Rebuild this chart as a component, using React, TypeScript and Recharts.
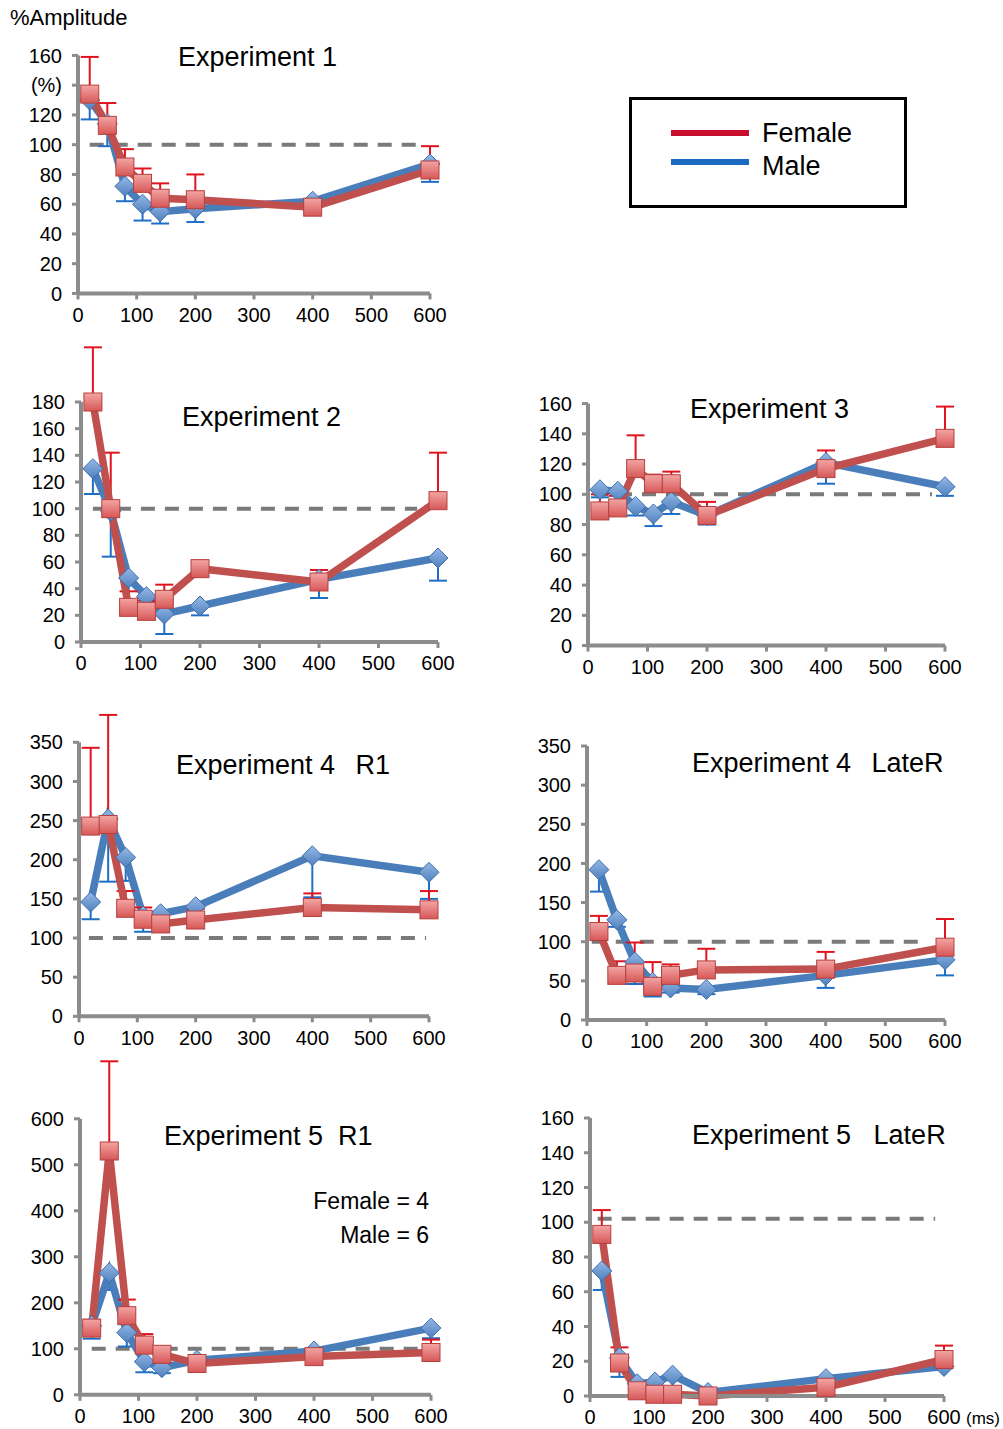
import React from 'react';
import { LineChart, Line, XAxis, YAxis, ErrorBar, ReferenceLine } from 'recharts';

// stimulus intervals (ms)
const delays = [20, 50, 80, 110, 140, 200, 400, 600];
const xTicks = [0, 100, 200, 300, 400, 500, 600];

const exp1Female = [134, 113, 85, 74, 64, 63, 58, 83];
const exp1FemaleErr = [25, 15, 12, 10, 10, 17, 5, 16];
const exp1Male = [130, 114, 72, 60, 55, 57, 62, 87];
const exp1MaleErr = [13, 15, 10, 11, 8, 9, 7, 12];

const exp2Female = [180, 100, 26, 23, 32, 55, 45, 106];
const exp2FemaleErr = [41, 42, 12, 8, 11, 6, 9, 36];
const exp2Male = [130, 98, 48, 34, 21, 27, 47, 63];
const exp2MaleErr = [19, 34, 26, 10, 15, 7, 14, 17];

const exp3Female = [89, 91, 117, 107, 107, 86, 117, 137];
const exp3FemaleErr = [11, 8, 22, 6, 8, 9, 12, 21];
const exp3Male = [103, 102, 92, 87, 95, 86, 121, 105];
const exp3MaleErr = [5, 6, 6, 8, 8, 6, 14, 6];

const exp4R1Female = [243, 245, 138, 124, 118, 123, 139, 136];
const exp4R1FemaleErr = [100, 140, 22, 15, 9, 14, 18, 24];
const exp4R1Male = [146, 252, 203, 128, 131, 140, 205, 184];
const exp4R1MaleErr = [22, 80, 30, 20, 17, 27, 53, 34];

const exp4LateFemale = [113, 57, 60, 43, 57, 64, 65, 93];
const exp4LateFemaleErr = [20, 18, 39, 31, 14, 27, 22, 36];
const exp4LateMale = [192, 128, 74, 48, 41, 39, 57, 77];
const exp4LateMaleErr = [28, 9, 28, 18, 6, 6, 16, 20];

const exp5R1Female = [145, 530, 172, 108, 88, 68, 83, 92];
const exp5R1FemaleErr = [18, 195, 35, 24, 5, 7, 12, 28];
const exp5R1Male = [150, 265, 135, 72, 59, 75, 95, 145];
const exp5R1MaleErr = [28, 37, 30, 23, 12, 3, 18, 22];

const exp5LateFemale = [93, 19, 3, 1, 1, 0, 5, 21];
const exp5LateFemaleErr = [14, 9, 1, 0, 0, 0, 1, 8];
const exp5LateMale = [72, 22, 7, 8, 12, 2, 10, 17];
const exp5LateMaleErr = [11, 11, 7, 8, 9, 1, 5, 1];

const FONT = '"Liberation Sans", Arial, Helvetica, sans-serif';
const AXIS = '#8c8c8c';
const RED_LINE = '#c0504d';
const BLUE_LINE = '#4a7ebb';
const RED_ERR = '#e0141e';
const BLUE_ERR = '#1f6fc6';

function buildRows(f: number[], fe: number[], m: number[], me: number[]) {
  // female bars only go up, male bars only go down (as in the original figure)
  return delays.map((t, i) => ({
    t,
    female: f[i],
    femaleErr: [0, fe[i]],
    male: m[i],
    maleErr: [me[i], 0],
  }));
}

interface PanelProps {
  id: string;
  rows: any[];
  plotLeft: number;
  plotRight: number;
  zeroY: number;
  axisTopY: number;
  axisMax: number;
  extTop: number;
  step: number;
  refY: number;
  refFrom: number;
  refTo: number;
  percentTick?: boolean;
}

function Panel(p: PanelProps) {
  const pxPerUnit = (p.zeroY - p.axisTopY) / p.axisMax;
  const plotTop = p.zeroY - p.extTop * pxPerUnit;
  const mTop = 20;
  const mBottom = 5;
  const xAxisH = 40;
  const yAxisW = 60;
  const mLeft = 10;
  const mRight = 30;
  const width = p.plotRight - p.plotLeft + mLeft + yAxisW + mRight;
  const height = p.zeroY - plotTop + mTop + mBottom + xAxisH;
  const yTicks: number[] = [];
  for (let v = 0; v <= p.axisMax; v += p.step) yTicks.push(v);

  const square = (props: any) => {
    const { cx, cy, index } = props;
    if (cx == null || cy == null) return <g key={index} />;
    return (
      <rect key={index} x={cx - 9} y={cy - 9} width={18} height={18}
        fill={`url(#sq-${p.id})`} stroke="#b5403e" strokeWidth={1} />
    );
  };
  const diamond = (props: any) => {
    const { cx, cy, index } = props;
    if (cx == null || cy == null) return <g key={index} />;
    return (
      <polygon key={index}
        points={`${cx},${cy - 10} ${cx + 10},${cy} ${cx},${cy + 10} ${cx - 10},${cy}`}
        fill={`url(#dm-${p.id})`} stroke="#3d6ead" strokeWidth={1} />
    );
  };

  return (
    <div style={{ position: 'absolute', left: p.plotLeft - mLeft - yAxisW, top: plotTop - mTop }}>
      <LineChart width={width} height={height} data={p.rows}
        margin={{ top: mTop, right: mRight, bottom: mBottom, left: mLeft }}>
        <defs>
          <linearGradient id={`sq-${p.id}`} x1="0" y1="0" x2="0" y2="1">
            <stop offset="0%" stopColor="#f3a5a4" />
            <stop offset="100%" stopColor="#d65857" />
          </linearGradient>
          <linearGradient id={`dm-${p.id}`} x1="0" y1="0" x2="0" y2="1">
            <stop offset="0%" stopColor="#95b8e6" />
            <stop offset="100%" stopColor="#4f81bd" />
          </linearGradient>
        </defs>
        <XAxis dataKey="t" type="number" domain={[0, 600]} ticks={xTicks}
          axisLine={{ stroke: AXIS, strokeWidth: 4 }}
          tickLine={{ stroke: AXIS, strokeWidth: 3 }}
          tickSize={6} tickMargin={8} height={xAxisH} interval={0}
          tick={{ fontSize: 20, fill: '#000', fontFamily: FONT }} />
        <YAxis type="number" domain={[0, p.extTop]} ticks={yTicks} width={yAxisW}
          axisLine={false}
          tickLine={{ stroke: AXIS, strokeWidth: 3 }}
          tickSize={6} tickMargin={10} interval={0}
          tickFormatter={(v: number) => (p.percentTick && v === 140 ? '(%)' : String(v))}
          tick={{ fontSize: 20, fill: '#000', fontFamily: FONT }} />
        <ReferenceLine segment={[{ x: 0, y: 0 }, { x: 0, y: p.axisMax }]}
          stroke={AXIS} strokeWidth={4} />
        <ReferenceLine segment={[{ x: p.refFrom, y: p.refY }, { x: p.refTo, y: p.refY }]}
          stroke="#7a7a7a" strokeWidth={4} strokeDasharray="14 10" />
        <Line type="linear" dataKey="male" stroke={BLUE_LINE} strokeWidth={7.5}
          dot={diamond} isAnimationActive={false}>
          <ErrorBar dataKey="maleErr" direction="y" width={9} stroke={BLUE_ERR} strokeWidth={2} />
        </Line>
        <Line type="linear" dataKey="female" stroke={RED_LINE} strokeWidth={7.5}
          dot={square} isAnimationActive={false}>
          <ErrorBar dataKey="femaleErr" direction="y" width={9} stroke={RED_ERR} strokeWidth={2} />
        </Line>
      </LineChart>
    </div>
  );
}

const titleStyle = (left: number, cy: number, size = 27): React.CSSProperties => ({
  position: 'absolute',
  left,
  top: cy - size / 2 - 2,
  fontSize: size,
  lineHeight: `${size + 4}px`,
  fontFamily: FONT,
  color: '#000',
  whiteSpace: 'pre',
});

export default function App() {
  return (
    <div style={{ position: 'absolute', left: 0, top: 0, width: 1003, height: 1429, background: '#fff', overflow: 'hidden' }}>
      <Panel id="e1" rows={buildRows(exp1Female, exp1FemaleErr, exp1Male, exp1MaleErr)}
        plotLeft={78} plotRight={430} zeroY={293} axisTopY={55} axisMax={160} extTop={165} step={20}
        refY={100} refFrom={20} refTo={590} percentTick />
      <Panel id="e2" rows={buildRows(exp2Female, exp2FemaleErr, exp2Male, exp2MaleErr)}
        plotLeft={81} plotRight={438} zeroY={642} axisTopY={402} axisMax={180} extTop={225} step={20}
        refY={100} refFrom={20} refTo={565} />
      <Panel id="e3" rows={buildRows(exp3Female, exp3FemaleErr, exp3Male, exp3MaleErr)}
        plotLeft={588} plotRight={945} zeroY={646} axisTopY={404} axisMax={160} extTop={165} step={20}
        refY={100} refFrom={10} refTo={578} />
      <Panel id="e4a" rows={buildRows(exp4R1Female, exp4R1FemaleErr, exp4R1Male, exp4R1MaleErr)}
        plotLeft={79} plotRight={429} zeroY={1016} axisTopY={742} axisMax={350} extTop={390} step={50}
        refY={100} refFrom={17} refTo={595} />
      <Panel id="e4b" rows={buildRows(exp4LateFemale, exp4LateFemaleErr, exp4LateMale, exp4LateMaleErr)}
        plotLeft={587} plotRight={945} zeroY={1020} axisTopY={746} axisMax={350} extTop={350} step={50}
        refY={100} refFrom={8} refTo={566} />
      <Panel id="e5a" rows={buildRows(exp5R1Female, exp5R1FemaleErr, exp5R1Male, exp5R1MaleErr)}
        plotLeft={80} plotRight={431} zeroY={1395} axisTopY={1119} axisMax={600} extTop={730} step={100}
        refY={100} refFrom={20} refTo={600} />
      <Panel id="e5b" rows={buildRows(exp5LateFemale, exp5LateFemaleErr, exp5LateMale, exp5LateMaleErr)}
        plotLeft={590} plotRight={944} zeroY={1396} axisTopY={1118} axisMax={160} extTop={160} step={20}
        refY={102} refFrom={13} refTo={585} />

      <div style={titleStyle(10, 18, 22)}>%Amplitude</div>
      <div style={titleStyle(178, 57)}>Experiment 1</div>
      <div style={titleStyle(182, 417)}>Experiment 2</div>
      <div style={titleStyle(690, 409)}>Experiment 3</div>
      <div style={titleStyle(176, 765)}>{'Experiment 4  \u2009R1'}</div>
      <div style={titleStyle(692, 763)}>{'Experiment 4  \u2009LateR'}</div>
      <div style={titleStyle(164, 1136)}>{'Experiment 5  R1'}</div>
      <div style={titleStyle(692, 1135)}>{'Experiment 5   LateR'}</div>
      <div style={{ ...titleStyle(0, 1201, 23), width: 429, textAlign: 'right' }}>Female = 4</div>
      <div style={{ ...titleStyle(0, 1235, 23), width: 429, textAlign: 'right' }}>Male = 6</div>
      <div style={titleStyle(966, 1418, 17)}>(ms)</div>

      {/* legend */}
      <div style={{ position: 'absolute', left: 629, top: 97, width: 278, height: 111, boxSizing: 'border-box', border: '3px solid #000' }} />
      <div style={{ position: 'absolute', left: 671, top: 130, width: 78, height: 6, background: '#c8102e' }} />
      <div style={{ position: 'absolute', left: 671, top: 159, width: 78, height: 6, background: '#1a6bc0' }} />
      <div style={titleStyle(762, 133)}>Female</div>
      <div style={titleStyle(762, 166)}>Male</div>
    </div>
  );
}
